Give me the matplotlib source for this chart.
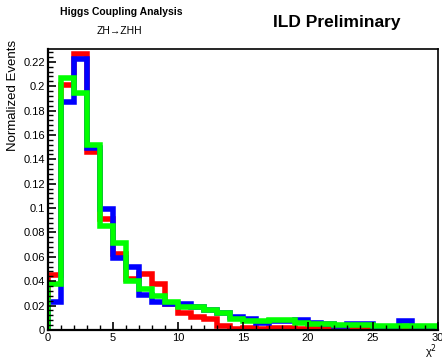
import matplotlib
matplotlib.use("Agg")
import matplotlib.pyplot as plt
import numpy as np
from matplotlib.ticker import MultipleLocator, FuncFormatter

plt.rcParams['font.family'] = ['Liberation Sans', 'DejaVu Sans']

edges = list(range(0, 31))
blue = [0.023, 0.187, 0.222, 0.149, 0.099, 0.059, 0.052, 0.029, 0.023, 0.021,
        0.021, 0.019, 0.016, 0.014, 0.011, 0.009, 0.006, 0.007, 0.007, 0.008,
        0.006, 0.005, 0.003, 0.005, 0.005, 0.001, 0.002, 0.007, 0.002, 0.002]
red = [0.045, 0.201, 0.226, 0.146, 0.091, 0.062, 0.042, 0.046, 0.038, 0.021,
       0.014, 0.011, 0.009, 0.003, 0.001, 0.002, 0.001, 0.002, 0.002, 0.001,
       0.002, 0.002, 0.001, 0.001, 0.002, 0.001, 0.002, 0.002, 0.001, 0.000]
green = [0.038, 0.207, 0.194, 0.152, 0.085, 0.071, 0.040, 0.034, 0.028, 0.023,
         0.019, 0.019, 0.016, 0.014, 0.009, 0.007, 0.007, 0.008, 0.008, 0.006,
         0.005, 0.005, 0.004, 0.004, 0.004, 0.003, 0.003, 0.003, 0.003, 0.003]

fig = plt.figure(figsize=(4.42, 3.62), dpi=100)
ax = fig.add_axes([48/442, 1-330/362, (438-48)/442, (330-49)/362])

for vals, col in [(red, '#ff0000'), (blue, '#0000ff'), (green, '#00ff00')]:
    p = ax.stairs(vals, edges, color=col, linewidth=4.0, baseline=0)
    p.set_joinstyle('miter')

ax.set_xlim(0, 30)
ax.set_ylim(0, 0.2305)
ax.xaxis.set_major_locator(MultipleLocator(5))
ax.xaxis.set_minor_locator(MultipleLocator(1))
ax.yaxis.set_major_locator(MultipleLocator(0.02))
ax.yaxis.set_minor_locator(MultipleLocator(0.004))
ax.yaxis.set_major_formatter(FuncFormatter(lambda v, p: '%g' % round(v, 3)))
ax.xaxis.set_major_formatter(FuncFormatter(lambda v, p: '%g' % v))
ax.tick_params(which='both', direction='in', top=False, right=False, labelsize=8, pad=2)
ax.tick_params(which='major', length=6, width=1.2)
ax.tick_params(which='minor', length=3.5, width=1.0)
for s in ['left', 'bottom']:
    ax.spines[s].set_linewidth(1.6)
for s in ['top', 'right']:
    ax.spines[s].set_linewidth(1.2)

fig.text(121/442, 1-12/362, 'Higgs Coupling Analysis', ha='center', va='center',
         fontsize=7.5, fontweight='bold')
fig.text(119/442, 1-31/362, 'ZH\u2192ZHH', ha='center', va='center', fontsize=7.5)
fig.text(337/442, 1-23/362, 'ILD Preliminary', ha='center', va='center', fontsize=12.5, fontweight='bold')
fig.text(13/442, 1-40/362, 'Normalized Events', rotation=90, ha='center', va='top', fontsize=9.5)
fig.text(431/442, 1-352/362, '\u03c7$^2$', ha='center', va='center', fontsize=8)

fig.savefig('out.png', dpi=100)
